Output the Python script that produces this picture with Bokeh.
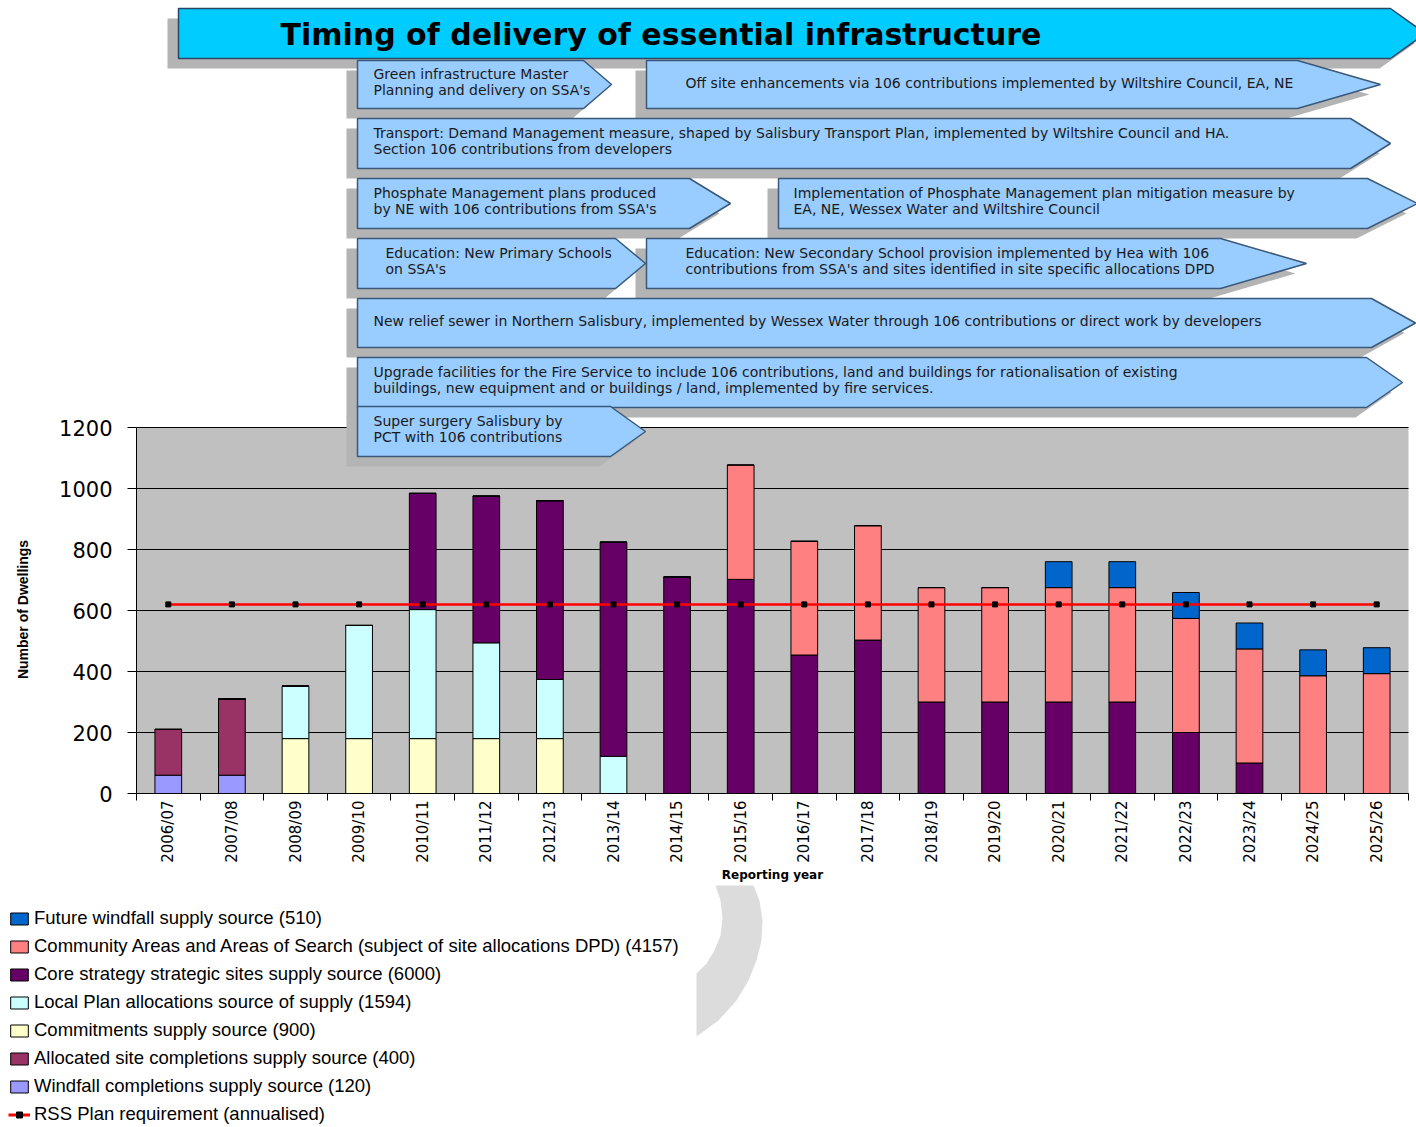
import math
import numpy as np
from bokeh.plotting import figure
from bokeh.models import ColumnDataSource, Range1d, FixedTicker, Legend, LegendItem, Label
from bokeh.core.properties import value
from bokeh.embed import file_html
from bokeh.resources import INLINE

# ---------------- data ----------------
years = ["2006/07", "2007/08", "2008/09", "2009/10", "2010/11", "2011/12", "2012/13",
         "2013/14", "2014/15", "2015/16", "2016/17", "2017/18", "2018/19", "2019/20",
         "2020/21", "2021/22", "2022/23", "2023/24", "2024/25", "2025/26"]
windfall_completions = [60, 60, 0, 0, 0, 0, 0, 0, 0, 0, 0, 0, 0, 0, 0, 0, 0, 0, 0, 0]
allocated_completions = [150, 250, 0, 0, 0, 0, 0, 0, 0, 0, 0, 0, 0, 0, 0, 0, 0, 0, 0, 0]
commitments = [0, 0, 180, 180, 180, 180, 180, 0, 0, 0, 0, 0, 0, 0, 0, 0, 0, 0, 0, 0]
local_plan = [0, 0, 172, 371, 423, 314, 194, 122, 0, 0, 0, 0, 0, 0, 0, 0, 0, 0, 0, 0]
core_strategy = [0, 0, 0, 0, 381, 481, 586, 702, 710, 702, 454, 503, 300, 300, 300, 300, 200, 100, 0, 0]
community_areas = [0, 0, 0, 0, 0, 0, 0, 0, 0, 375, 373, 375, 375, 375, 375, 375, 374, 374, 386, 393]
future_windfall = [0, 0, 0, 0, 0, 0, 0, 0, 0, 0, 0, 0, 0, 0, 85, 85, 85, 85, 85, 85]
rss_requirement = [620] * 20
y_ticks = [0, 200, 400, 600, 800, 1000, 1200]

series_keys = ["windfall", "allocated", "commit", "local", "core", "community", "future"]
series_colors = ["#9999ff", "#993366", "#ffffcc", "#ccffff", "#660066", "#ff8080", "#0066cc"]
legend_labels = [
    ("Future windfall supply source (510)", "#0066cc"),
    ("Community Areas and Areas of Search (subject of site allocations DPD) (4157)", "#ff8080"),
    ("Core strategy strategic sites supply source (6000)", "#660066"),
    ("Local Plan allocations source of supply (1594)", "#ccffff"),
    ("Commitments supply source (900)", "#ffffcc"),
    ("Allocated site completions supply source (400)", "#993366"),
    ("Windfall completions supply source (120)", "#9999ff"),
]
rss_label = "RSS Plan requirement (annualised)"
y_title = "Number of Dwellings"
x_title = "Reporting year"

title_text = "Timing of delivery of essential infrastructure"
# (left, top, bottom, body_right, tip, text_x, lines)
arrows = [
    (357, 60, 108, 583, 611, 373, ["Green infrastructure Master", "Planning and delivery on SSA's"]),
    (646, 60, 108, 1297, 1380, 685, ["Off site enhancements via 106 contributions implemented by Wiltshire Council, EA, NE"]),
    (357, 118, 168, 1350, 1390, 373, ["Transport: Demand Management measure, shaped by Salisbury Transport Plan, implemented by Wiltshire Council and HA.",
                                      "Section 106 contributions from developers"]),
    (357, 178, 228, 689, 730, 373, ["Phosphate Management plans produced", "by NE with 106 contributions from SSA's"]),
    (778, 178, 228, 1367, 1417, 793, ["Implementation of Phosphate Management plan mitigation measure by",
                                      "EA, NE, Wessex Water and Wiltshire Council"]),
    (357, 238, 288, 615, 645, 385, ["Education: New Primary Schools", "on SSA's"]),
    (646, 238, 288, 1220, 1306, 685, ["Education: New Secondary School provision implemented by Hea with 106",
                                      "contributions from SSA's and sites identified in site specific allocations DPD"]),
    (357, 298, 347, 1371, 1415, 373, ["New relief sewer in Northern Salisbury, implemented by Wessex Water through 106 contributions or direct work by developers"]),
    (357, 357, 407, 1366, 1402, 373, ["Upgrade facilities for the Fire Service to include 106 contributions, land and buildings for rationalisation of existing",
                                      "buildings, new equipment and or buildings / land, implemented by fire services."]),
    (357, 406, 456, 610, 645, 373, ["Super surgery Salisbury by", "PCT with 106 contributions"]),
]

# ---------------- layout constants (page pixels) ----------------
PAGE_W, PAGE_H = 1416, 1125
PLOT_L, PLOT_R = 136, 1408          # grey plotting area, horizontal
Y0_PX, Y1200_PX = 793, 427          # pixel rows of 0 and 1200

n = len(years)
xs = list(range(n))
cat_w = (PLOT_R - PLOT_L) / n
ppu = (Y0_PX - Y1200_PX) / float(y_ticks[-1])
x_start = -0.5 - PLOT_L / cat_w
x_end = n - 0.5 + (PAGE_W - PLOT_R) / cat_w
y_end = Y0_PX / ppu
y_start = -(PAGE_H - Y0_PX) / ppu

p = figure(width=PAGE_W, height=PAGE_H, min_border=0,
           x_range=Range1d(x_start, x_end), y_range=Range1d(y_start, y_end),
           output_backend="svg", toolbar_location=None, title=None)
p.extra_x_ranges = {"px": Range1d(0, PAGE_W)}
p.extra_y_ranges = {"px": Range1d(PAGE_H, 0)}
p.background_fill_color = "white"
p.border_fill_color = "white"
p.outline_line_color = None
p.grid.visible = False

# grey plotting area and horizontal gridlines
p.quad(left=[-0.5], right=[n - 0.5], bottom=[y_ticks[0]], top=[y_ticks[-1]],
       fill_color="#c0c0c0", line_color=None)
p.segment(x0=[-0.5] * len(y_ticks), x1=[n - 0.5] * len(y_ticks), y0=y_ticks, y1=y_ticks,
          line_color="black", line_width=1)

src = ColumnDataSource(dict(x=xs, windfall=windfall_completions, allocated=allocated_completions,
                            commit=commitments, local=local_plan, core=core_strategy,
                            community=community_areas, future=future_windfall, rss=rss_requirement))
p.vbar_stack(series_keys, x="x", width=0.42, fill_color=series_colors, line_color="black",
             line_width=1, source=src)

p.line(x="x", y="rss", source=src, line_color="#ff0000", line_width=2.5)
p.scatter(x="x", y="rss", source=src, marker="square", size=5, fill_color="black", line_color="black")

# ---------------- arrows ----------------
SH_DX, SH_DY = -11, 10


def arrow_poly(x0, y0, y1, xb, tip):
    return [x0, xb, tip, xb, x0], [y0, y0, (y0 + y1) / 2.0, y1, y1]


title_poly = arrow_poly(178, 8, 58, 1390, 1425)
ar_xs, ar_ys = [], []
for a in arrows:
    px_, py_ = arrow_poly(a[0], a[1], a[2], a[3], a[4])
    ar_xs.append(px_)
    ar_ys.append(py_)
sh_xs = [[v + SH_DX for v in xx] for xx in [title_poly[0]] + ar_xs]
sh_ys = [[v + SH_DY for v in yy] for yy in [title_poly[1]] + ar_ys]

p.patches(sh_xs, sh_ys, x_range_name="px", y_range_name="px", fill_color="#b4b4b4", line_color=None)
p.patch(title_poly[0], title_poly[1], x_range_name="px", y_range_name="px",
        fill_color="#00ccff", line_color="#2a4665", line_width=1.5)
p.patches(ar_xs, ar_ys, x_range_name="px", y_range_name="px",
          fill_color="#99ccff", line_color="#3a5878", line_width=1.5)

p.text(x=[280], y=[34], text=[title_text], x_range_name="px", y_range_name="px",
       text_font=value("DejaVu Sans"), text_font_style="bold", text_font_size="30px",
       text_baseline="middle", text_align="left", text_color="black")

tx, ty, tt = [], [], []
for a in arrows:
    lines = a[6]
    if len(lines) == 1:
        tx.append(a[5]); ty.append(a[1] + 22); tt.append(lines[0])
    else:
        off = 13 if a[1] == 60 else 14
        tx.append(a[5]); ty.append(a[1] + off); tt.append(lines[0])
        tx.append(a[5]); ty.append(a[1] + off + 16); tt.append(lines[1])
p.text(x=tx, y=ty, text=tt, x_range_name="px", y_range_name="px",
       text_font=value("DejaVu Sans"), text_font_size="14px",
       text_baseline="middle", text_align="left", text_color="#1a1a1a")

# gray curved decoration below the chart
arc_x = [715, 753, 759, 762, 761, 756, 748, 736, 718, 696, 696, 706, 714, 720, 722, 720]
arc_y = [885, 885, 900, 920, 940, 960, 980, 1000, 1020, 1036, 973, 963, 950, 935, 918, 900]
p.patch(arc_x, arc_y, x_range_name="px", y_range_name="px", fill_color="#dcdcdc", line_color=None)

# ---------------- axes (drawn at fixed data locations) ----------------
yax = p.yaxis[0]
yax.fixed_location = -0.5
yax.ticker = FixedTicker(ticks=y_ticks, minor_ticks=[])
yax.bounds = (y_ticks[0], y_ticks[-1])
yax.axis_line_color = "black"
yax.major_tick_out = 9
yax.major_tick_in = 0
yax.minor_tick_out = 0
yax.minor_tick_in = 0
yax.major_label_text_font = "DejaVu Sans"
yax.major_label_text_font_size = "21px"
yax.major_label_text_color = "black"
yax.major_label_standoff = 15

xax = p.xaxis[0]
xax.fixed_location = 0
xax.ticker = FixedTicker(ticks=xs, minor_ticks=[i - 0.5 for i in range(n + 1)])
xax.bounds = (-0.5, n - 0.5)
xax.major_label_overrides = {i: yr for i, yr in enumerate(years)}
xax.major_label_orientation = math.pi / 2
xax.axis_line_color = "black"
xax.major_tick_out = 0
xax.major_tick_in = 0
xax.minor_tick_out = 7
xax.minor_tick_in = 0
xax.major_label_standoff = 0
xax.major_label_text_font = "DejaVu Sans"
xax.major_label_text_font_size = "15px"
xax.major_label_text_color = "black"

p.add_layout(Label(x=22, y=609, x_range_name="px", y_range_name="px",
                   text=y_title, angle=math.pi / 2,
                   text_align="center", text_baseline="middle",
                   text_font="Liberation Sans", text_font_style="bold",
                   text_font_size="14px", text_color="black"))
p.add_layout(Label(x=(PLOT_L + PLOT_R) / 2.0, y=874, x_range_name="px", y_range_name="px",
                   text=x_title, text_align="center", text_baseline="middle",
                   text_font="DejaVu Sans", text_font_style="bold",
                   text_font_size="12px", text_color="black"))

# ---------------- legend ----------------
nan = np.array([np.nan])
items = []
for lab, col in legend_labels:
    r = p.quad(left=nan, right=nan, top=nan, bottom=nan, fill_color=col,
               line_color="black", line_width=1)
    items.append(LegendItem(label=lab, renderers=[r]))
rl = p.line(x=nan, y=nan, line_color="#ff0000", line_width=3)
rs = p.scatter(x=nan, y=nan, marker="square", size=5, fill_color="black", line_color="black")
items.append(LegendItem(label=rss_label, renderers=[rl, rs]))

legend = Legend(items=items, location=(8, 0), orientation="vertical",
                glyph_width=22, glyph_height=15, label_standoff=4,
                label_text_font="Liberation Sans", label_text_font_size="18.5px",
                label_text_color="black", label_height=21, spacing=6,
                padding=0, margin=0, border_line_color=None, background_fill_alpha=0)
p.add_layout(legend)

open("out.html", "w").write(file_html(p, INLINE))
